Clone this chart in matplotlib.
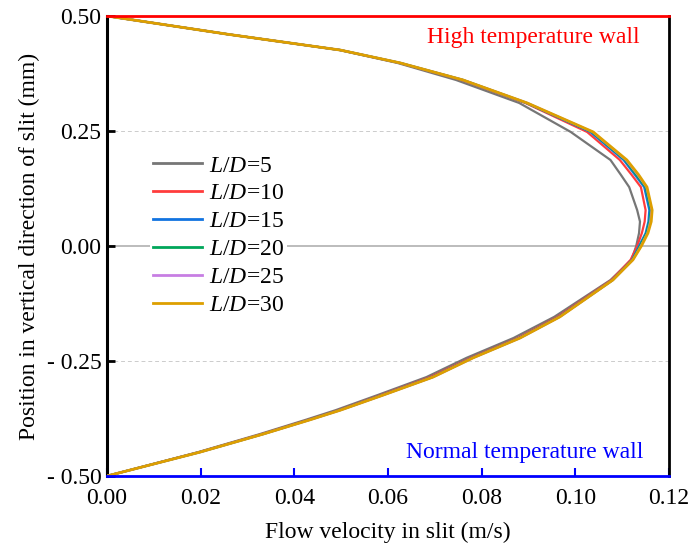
import numpy as np
import matplotlib
matplotlib.use("Agg")
import matplotlib.pyplot as plt

plt.rcParams['font.family'] = ['Liberation Serif', 'DejaVu Serif']
plt.rcParams['mathtext.fontset'] = 'custom'
plt.rcParams['mathtext.rm'] = 'Liberation Serif'
plt.rcParams['mathtext.it'] = 'Liberation Serif:italic'

# position across the slit (mm), shared by all series
pos = [0.50, 0.46, 0.426, 0.398, 0.361, 0.311, 0.248, 0.187, 0.155, 0.128, 0.078,
       0.053, 0.028, 0.0, -0.030, -0.074, -0.154, -0.200, -0.243, -0.285, -0.324,
       -0.357, -0.378, -0.409, -0.448, -0.50]

# flow velocity (m/s) for each L/D
vel_5 = [0.0, 0.026, 0.0496, 0.0620, 0.0745, 0.0880, 0.0990, 0.1075, 0.1097, 0.1115,
         0.1132, 0.1138, 0.1136, 0.1130, 0.1120, 0.1075, 0.0955, 0.0868, 0.0768,
         0.0682, 0.0578, 0.0488, 0.0424, 0.0326, 0.0195, 0.0]
vel_10 = [0.0, 0.026, 0.0498, 0.0624, 0.0757, 0.0893, 0.1025, 0.1095, 0.1120, 0.1140,
          0.1150, 0.1148, 0.1142, 0.1132, 0.1118, 0.1077, 0.0962, 0.0877, 0.0777,
          0.0690, 0.0585, 0.0494, 0.0429, 0.0330, 0.0197, 0.0]
vel_15 = [0.0, 0.026, 0.0498, 0.0625, 0.0759, 0.0895, 0.1032, 0.1103, 0.1127, 0.1147,
          0.1158, 0.1156, 0.1150, 0.1136, 0.1121, 0.1079, 0.0965, 0.0880, 0.0780,
          0.0694, 0.0588, 0.0496, 0.0431, 0.0332, 0.0198, 0.0]
vel_20 = [0.0, 0.026, 0.0498, 0.0626, 0.0760, 0.0896, 0.1035, 0.1106, 0.1130, 0.1150,
          0.1161, 0.1158, 0.1152, 0.1138, 0.1122, 0.1080, 0.0966, 0.0881, 0.0781,
          0.0695, 0.0589, 0.0497, 0.0432, 0.0333, 0.0199, 0.0]
vel_25 = [0.0, 0.026, 0.0498, 0.0626, 0.0760, 0.0897, 0.1037, 0.1108, 0.1133, 0.1152,
          0.1163, 0.1160, 0.1154, 0.1140, 0.1123, 0.1080, 0.0967, 0.0882, 0.0782,
          0.0696, 0.0590, 0.0498, 0.0433, 0.0333, 0.0199, 0.0]
vel_30 = [0.0, 0.026, 0.0498, 0.0626, 0.0760, 0.0897, 0.1038, 0.1110, 0.1135, 0.1153,
          0.1164, 0.1162, 0.1155, 0.1141, 0.1123, 0.1080, 0.0967, 0.0882, 0.0782,
          0.0696, 0.0590, 0.0498, 0.0433, 0.0333, 0.0199, 0.0]

labels = [r'$\mathit{L/D}$=5', r'$\mathit{L/D}$=10', r'$\mathit{L/D}$=15',
          r'$\mathit{L/D}$=20', r'$\mathit{L/D}$=25', r'$\mathit{L/D}$=30']
series = [vel_5, vel_10, vel_15, vel_20, vel_25, vel_30]
colors = ['#767676', '#ff3c3c', '#1273e0', '#00a65a', '#c77ee3', '#dd9f00']
widths = [1.6, 1.6, 1.6, 1.6, 1.6, 2.0]

xticks = [0.0, 0.02, 0.04, 0.06, 0.08, 0.10, 0.12]
xticklabels = ['0.00', '0.02', '0.04', '0.06', '0.08', '0.10', '0.12']
yticks = [0.5, 0.25, 0.0, -0.25, -0.5]
yticklabels = ['0.50', '0.25', '0.00', '- 0.25', '- 0.50']

fig = plt.figure(figsize=(6.89, 5.48), dpi=100)
ax = fig.add_axes([0.1553, 0.1314, 0.8157, 0.8394])

# reference lines
ax.axhline(0, color='#aaaaaa', lw=1.1, zorder=1)
for yv in (0.25, -0.25):
    ax.axhline(yv, color='#cccccc', lw=0.7, ls=(0, (4, 3)), zorder=1)

for vel, lab, c, w in zip(series, labels, colors, widths):
    ax.plot(vel, pos, color=c, lw=w, label=lab, zorder=3)

ax.set_xlim(0, 0.12)
ax.set_ylim(-0.5, 0.5)
ax.set_xticks(xticks)
ax.set_xticklabels(xticklabels)
ax.set_yticks(yticks)
ax.set_yticklabels(yticklabels)

fs = 17
ax.tick_params(axis='both', labelsize=fs)
ax.tick_params(axis='x', direction='in', length=6, width=1.5, color='blue', pad=9)
ax.tick_params(axis='y', direction='in', length=6, width=2, color='black', pad=4)

ax.spines['top'].set_color('red')
ax.spines['top'].set_linewidth(2)
ax.spines['bottom'].set_color('blue')
ax.spines['bottom'].set_linewidth(2)
ax.spines['left'].set_linewidth(2.2)
ax.spines['right'].set_linewidth(2)
for s in ('top', 'bottom'):
    ax.spines[s].set_zorder(4)

ax.text(0.1138, 0.454, 'High temperature wall', color='red', fontsize=fs,
        ha='right', va='center')
ax.text(0.1145, -0.448, 'Normal temperature wall', color='blue', fontsize=fs,
        ha='right', va='center')

ax.set_xlabel('Flow velocity in slit (m/s)', fontsize=fs, labelpad=9)
ax.set_ylabel('Position in vertical direction of slit (mm)', fontsize=fs, labelpad=5)

leg = ax.legend(loc='upper left', bbox_to_anchor=(0.077, 0.703), fontsize=fs,
                frameon=True, facecolor='white', edgecolor='none', framealpha=1,
                fancybox=False, handlelength=2.1, handletextpad=0.3,
                labelspacing=0.27, borderpad=0.1, borderaxespad=0)
for line in leg.get_lines():
    line.set_linewidth(2)

fig.savefig('out.png', dpi=100)
